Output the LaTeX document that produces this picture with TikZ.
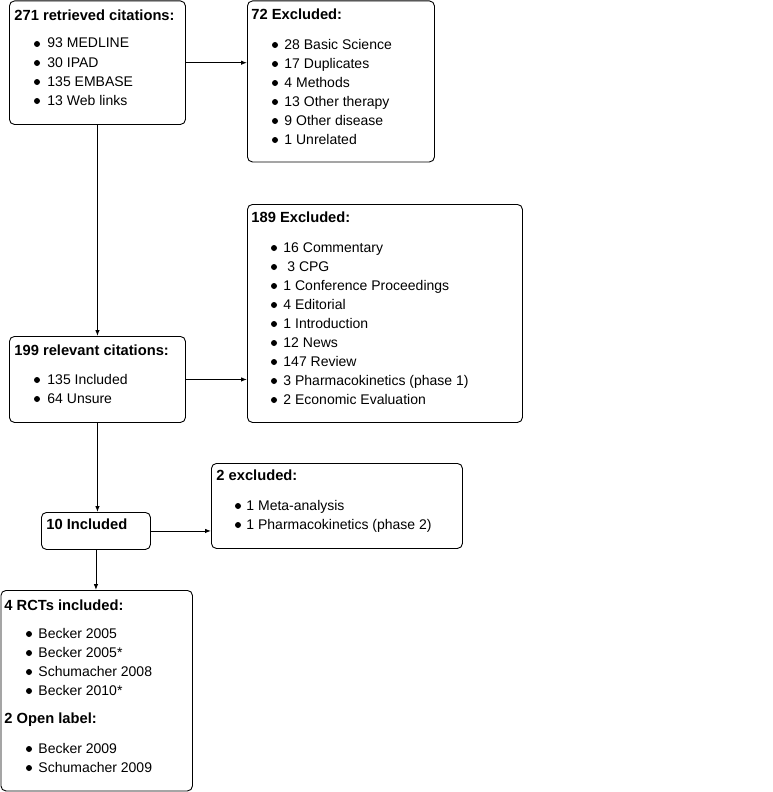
\documentclass[tikz,border=0pt]{standalone}
\usepackage{fontspec}
\setmainfont{Liberation Sans}
\usetikzlibrary{arrows.meta,positioning}

\begin{document}
\begin{tikzpicture}[x=1pt, y=-1pt, line width=0.9pt,
    box/.style={draw, rounded corners=5pt, anchor=north west, inner sep=0pt},
    head/.style={anchor=base west, inner sep=0pt, font=\fontsize{14.7}{16}\selectfont\bfseries},
    item/.style={anchor=base west, inner sep=0pt, font=\fontsize{14}{16}\selectfont},
    arr/.style={-{Latex[length=6pt, width=4.5pt]}}]

    \useasboundingbox[fill=white] (0,0) rectangle (772,792);

    % Boxes
    \node[box, minimum width=176pt, minimum height=123.5pt] (ret) at (9,0.5) {};
    \node[box, minimum width=187pt, minimum height=161pt] (exc1) at (247,0.5) {};
    \node[box, minimum width=275pt, minimum height=218pt] (exc2) at (247,204) {};
    \node[box, minimum width=176pt, minimum height=86pt] (rel) at (9,336) {};
    \node[box, minimum width=109pt, minimum height=37pt] (inc) at (41,512) {};
    \node[box, minimum width=251pt, minimum height=85pt] (exc3) at (211,463) {};
    \node[box, minimum width=191.5pt, minimum height=200.5pt] (rct) at (0.5,590) {};

    % Retrieved citations
    \node[head] (rethead) at (14,21) {271 retrieved citations:};
    \foreach \t [count=\i from 0] in {93 MEDLINE, 30 IPAD, 135 EMBASE, 13 Web links} {
        \fill (37,44+19*\i) circle (3pt);
        \node[item] (ret\i) at (47,48+19*\i) {\t};
    }

    % First exclusions
    \node[head] (exc1head) at (251,20) {72 Excluded:};
    \foreach \t [count=\i from 0] in {28 Basic Science, 17 Duplicates, 4 Methods,
        13 Other therapy, 9 Other disease, 1 Unrelated} {
        \fill (275,45+19*\i) circle (3pt);
        \node[item] (exc1\i) at (284,49+19*\i) {\t};
    }

    % Second exclusions
    \node[head] (exc2head) at (251,222) {189 Excluded:};
    \foreach \t [count=\i from 0] in {16 Commentary, \ 3 CPG, 1 Conference Proceedings,
        4 Editorial, 1 Introduction, 12 News, 147 Review,
        3 Pharmacokinetics (phase 1), 2 Economic Evaluation} {
        \fill (274,248+19*\i) circle (3pt);
        \node[item] (exc2\i) at (283,252+19*\i) {\t};
    }

    % Relevant citations
    \node[head] (relhead) at (14,355) {199 relevant citations:};
    \foreach \t [count=\i from 0] in {135 Included, 64 Unsure} {
        \fill (37,380+19*\i) circle (3pt);
        \node[item] (rel\i) at (47,384+19*\i) {\t};
    }

    % Included
    \node[head] (inchead) at (46,529) {10 Included};

    % Third exclusions
    \node[head] (exc3head) at (216,480) {2 excluded:};
    \foreach \t [count=\i from 0] in {1 Meta-analysis, 1 Pharmacokinetics (phase 2)} {
        \fill (238,506+19*\i) circle (3pt);
        \node[item] (exc3\i) at (246,510+19*\i) {\t};
    }

    % RCTs and open label
    \node[head] (rcthead) at (4,610) {4 RCTs included:};
    \foreach \t [count=\i from 0] in {Becker 2005, Becker 2005*, Schumacher 2008, Becker 2010*} {
        \fill (29,634+19*\i) circle (3pt);
        \node[item] (rct\i) at (38,638+19*\i) {\t};
    }
    \node[head] (openhead) at (4,723) {2 Open label:};
    \foreach \t [count=\i from 0] in {Becker 2009, Schumacher 2009} {
        \fill (29,749+19*\i) circle (3pt);
        \node[item] (open\i) at (38,753+19*\i) {\t};
    }

    % Arrows
    \draw[arr] (ret.east) -- (ret.east -| exc1.west);
    \draw[arr] (ret.south) -- (rel.north);
    \draw[arr] (rel.east) -- (rel.east -| exc2.west);
    \draw[arr] (rel.south) -- (rel.south |- inc.north);
    \draw[arr] (inc.east) -- (inc.east -| exc3.west);
    \draw[arr] (inc.south) -- (inc.south |- rct.north);
\end{tikzpicture}
\end{document}
